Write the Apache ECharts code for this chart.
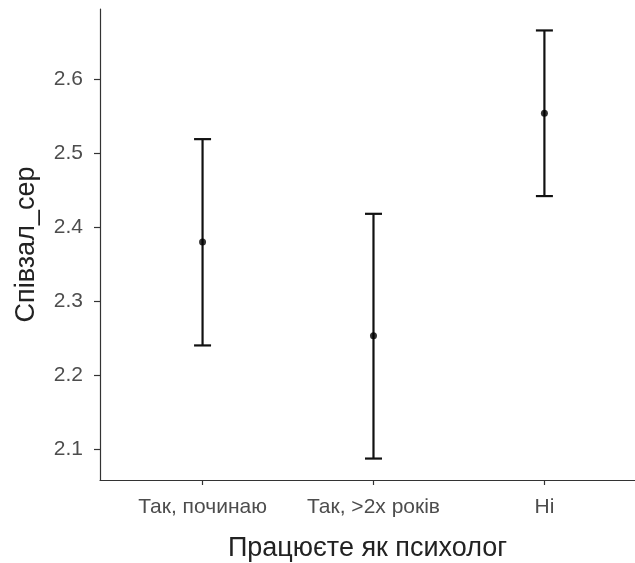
<!DOCTYPE html>
<html>
<head>
<meta charset="utf-8">
<script src="https://cdn.jsdelivr.net/npm/echarts@6/dist/echarts.min.js"></script>
<style>
  html, body { margin: 0; padding: 0; background: #fff; }
  #chart { width: 635px; height: 563px; }
</style>
</head>
<body>
<div id="chart"></div>
<script>
// Group labels on the x axis
const categories = ['Так, починаю', 'Так, >2х років', 'Ні'];
// Group means and interval bounds
const means = [2.380, 2.253, 2.554];
const lower = [2.240, 2.087, 2.442];
const upper = [2.519, 2.418, 2.666];
// Y tick values
const yTicks = [2.1, 2.2, 2.3, 2.4, 2.5, 2.6];
const xTicks = [1, 2, 3];

const chart = echarts.init(document.getElementById('chart'), null, { renderer: 'canvas' });

const barData = categories.map((c, i) => [i + 1, lower[i], upper[i]]);
const pointData = categories.map((c, i) => [i + 1, means[i]]);

const FONT = 'Liberation Sans, Arial, sans-serif';
const CAP = 17;

chart.setOption({
  animation: false,
  backgroundColor: '#ffffff',
  grid: { left: 100, right: 0, top: 9, bottom: 83, containLabel: false, outerBoundsMode: 'none' },
  xAxis: {
    type: 'value',
    min: 0.4,
    max: 3.53,
    name: 'Працюєте як психолог',
    nameLocation: 'middle',
    nameGap: 55,
    nameTextStyle: { fontFamily: FONT, fontSize: 27, color: '#222' },
    axisLine: { show: true, lineStyle: { color: '#333', width: 1.2 } },
    axisTick: { show: true, length: 5, customValues: xTicks, lineStyle: { color: '#333', width: 1.2 } },
    axisLabel: {
      customValues: xTicks,
      formatter: v => categories[Math.round(v) - 1] || '',
      fontFamily: FONT, fontSize: 21, color: '#4d4d4d', margin: 17
    },
    splitLine: { show: false }
  },
  yAxis: {
    type: 'value',
    min: 2.058,
    max: 2.695,
    name: 'Співзал_сер',
    nameLocation: 'middle',
    nameRotate: 90,
    nameGap: 60,
    nameTextStyle: { fontFamily: FONT, fontSize: 27, color: '#222' },
    axisLine: { show: true, lineStyle: { color: '#333', width: 1.2 } },
    axisTick: { show: true, length: 6, customValues: yTicks, lineStyle: { color: '#333', width: 1.2 } },
    axisLabel: {
      customValues: yTicks,
      formatter: v => v.toFixed(1),
      fontFamily: FONT, fontSize: 21, color: '#4d4d4d', margin: 17
    },
    splitLine: { show: false }
  },
  series: [
    {
      type: 'custom',
      data: barData,
      renderItem: function (params, api) {
        const x = api.value(0);
        const lo = api.coord([x, api.value(1)]);
        const hi = api.coord([x, api.value(2)]);
        const style = { stroke: '#111', lineWidth: 2.2 };
        return {
          type: 'group',
          children: [
            { type: 'line', shape: { x1: lo[0], y1: lo[1], x2: hi[0], y2: hi[1] }, style },
            { type: 'line', shape: { x1: lo[0] - CAP / 2, y1: lo[1], x2: lo[0] + CAP / 2, y2: lo[1] }, style },
            { type: 'line', shape: { x1: hi[0] - CAP / 2, y1: hi[1], x2: hi[0] + CAP / 2, y2: hi[1] }, style }
          ]
        };
      },
      z: 2
    },
    {
      type: 'scatter',
      data: pointData,
      symbol: 'circle',
      symbolSize: 7,
      itemStyle: { color: '#000' },
      z: 3
    }
  ]
});
</script>
</body>
</html>
